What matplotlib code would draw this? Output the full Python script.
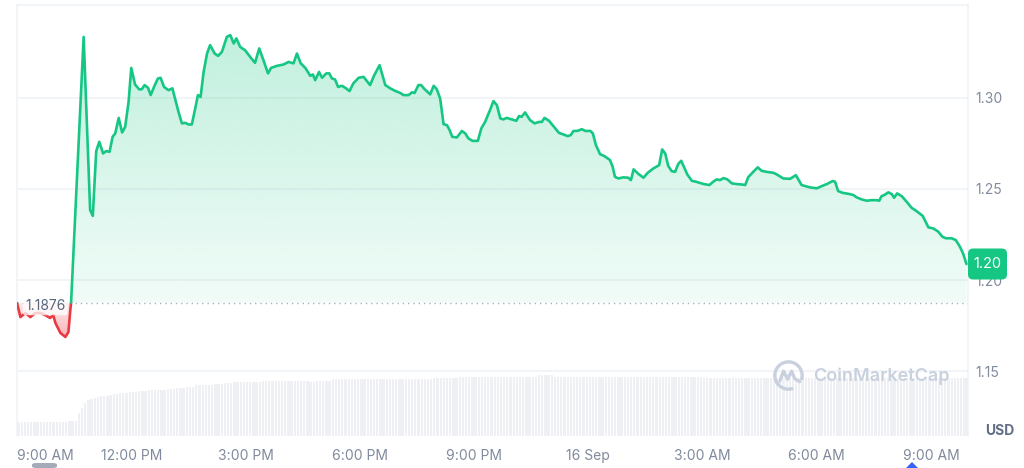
import numpy as np
import matplotlib
matplotlib.use("Agg")
import matplotlib.pyplot as plt
from matplotlib.patches import Polygon, Arc, FancyBboxPatch
from matplotlib.colors import to_rgb

plt.rcParams['font.family'] = ['Inter', 'DejaVu Sans']

# ---------------- data ----------------
# (hours since 9:00 AM 15 Sep, price in USD)
price_series = [
    (0.00, 1.1874), (0.09, 1.1797), (0.22, 1.1819), (0.35, 1.1797), (0.48, 1.1819),
    (0.61, 1.1819), (0.74, 1.1808), (0.87, 1.1792), (0.95, 1.1808), (1.01, 1.1764),
    (1.14, 1.1710), (1.27, 1.1688), (1.35, 1.1715), (1.40, 1.1836), (1.42, 1.1876),
    (1.75, 1.3333), (1.92, 1.2384), (1.99, 1.2352), (2.08, 1.2707), (2.16, 1.2758),
    (2.26, 1.2694), (2.34, 1.2707), (2.43, 1.2703), (2.51, 1.2785), (2.58, 1.2804),
    (2.67, 1.2889), (2.76, 1.2809), (2.84, 1.2840), (2.93, 1.2977), (3.00, 1.3163),
    (3.10, 1.3072), (3.21, 1.3045), (3.28, 1.3047), (3.35, 1.3069), (3.44, 1.3054),
    (3.51, 1.3014), (3.61, 1.3065), (3.70, 1.3105), (3.77, 1.3109), (3.86, 1.3059),
    (3.98, 1.3041), (4.08, 1.3051), (4.24, 1.2922), (4.33, 1.2859), (4.42, 1.2862),
    (4.50, 1.2853), (4.59, 1.2853), (4.68, 1.2941), (4.75, 1.3014), (4.82, 1.3004),
    (4.90, 1.3141), (4.99, 1.3242), (5.07, 1.3288), (5.19, 1.3242), (5.28, 1.3229),
    (5.38, 1.3251), (5.51, 1.3333), (5.60, 1.3343), (5.69, 1.3297), (5.76, 1.3325),
    (5.86, 1.3278), (5.99, 1.3260), (6.12, 1.3224), (6.25, 1.3191), (6.36, 1.3270),
    (6.47, 1.3206), (6.59, 1.3133), (6.67, 1.3163), (6.82, 1.3174), (7.00, 1.3182),
    (7.13, 1.3196), (7.26, 1.3188), (7.35, 1.3242), (7.45, 1.3188), (7.57, 1.3163),
    (7.70, 1.3120), (7.77, 1.3127), (7.83, 1.3096), (7.93, 1.3141), (8.01, 1.3109),
    (8.12, 1.3133), (8.20, 1.3133), (8.27, 1.3105), (8.35, 1.3100), (8.43, 1.3059),
    (8.53, 1.3065), (8.62, 1.3054), (8.73, 1.3036), (8.83, 1.3078), (8.97, 1.3109),
    (9.10, 1.3114), (9.27, 1.3069), (9.38, 1.3123), (9.52, 1.3178), (9.67, 1.3069),
    (9.80, 1.3051), (9.93, 1.3037), (10.06, 1.3026), (10.15, 1.3014), (10.28, 1.3014),
    (10.37, 1.3029), (10.44, 1.3026), (10.54, 1.3069), (10.61, 1.3069), (10.70, 1.3047),
    (10.85, 1.3018), (10.94, 1.3065), (11.02, 1.3047), (11.11, 1.2996), (11.20, 1.2855),
    (11.29, 1.2849), (11.35, 1.2826), (11.43, 1.2785), (11.55, 1.2782), (11.68, 1.2817),
    (11.77, 1.2804), (11.85, 1.2777), (11.96, 1.2763), (12.10, 1.2763), (12.19, 1.2831),
    (12.29, 1.2867), (12.42, 1.2932), (12.51, 1.2981), (12.60, 1.2959), (12.69, 1.2886),
    (12.77, 1.2881), (12.86, 1.2889), (12.99, 1.2881), (13.11, 1.2873), (13.18, 1.2899),
    (13.25, 1.2895), (13.34, 1.2919), (13.47, 1.2877), (13.59, 1.2859), (13.71, 1.2867),
    (13.78, 1.2867), (13.85, 1.2889), (13.97, 1.2873), (14.11, 1.2837), (14.23, 1.2807),
    (14.35, 1.2798), (14.46, 1.2789), (14.54, 1.2795), (14.61, 1.2817), (14.72, 1.2818),
    (14.83, 1.2827), (14.93, 1.2817), (15.05, 1.2818), (15.12, 1.2804), (15.20, 1.2740),
    (15.31, 1.2690), (15.42, 1.2680), (15.57, 1.2658), (15.64, 1.2621), (15.70, 1.2566),
    (15.79, 1.2557), (15.92, 1.2563), (16.05, 1.2561), (16.12, 1.2548), (16.19, 1.2607),
    (16.32, 1.2581), (16.45, 1.2561), (16.56, 1.2588), (16.71, 1.2612), (16.86, 1.2630),
    (16.94, 1.2716), (17.02, 1.2694), (17.10, 1.2625), (17.19, 1.2597), (17.28, 1.2593),
    (17.36, 1.2636), (17.44, 1.2654), (17.51, 1.2621), (17.60, 1.2579), (17.72, 1.2544),
    (17.83, 1.2539), (17.92, 1.2533), (18.04, 1.2526), (18.18, 1.2521), (18.28, 1.2539),
    (18.37, 1.2552), (18.46, 1.2548), (18.55, 1.2559), (18.65, 1.2552), (18.77, 1.2530),
    (18.90, 1.2526), (19.03, 1.2524), (19.12, 1.2521), (19.20, 1.2564), (19.33, 1.2593),
    (19.45, 1.2618), (19.55, 1.2599), (19.69, 1.2593), (19.86, 1.2588), (19.95, 1.2579),
    (20.12, 1.2557), (20.30, 1.2555), (20.45, 1.2575), (20.60, 1.2521), (20.82, 1.2508),
    (21.00, 1.2503), (21.13, 1.2515), (21.26, 1.2526), (21.42, 1.2543), (21.48, 1.2539),
    (21.56, 1.2488), (21.68, 1.2478), (21.77, 1.2475), (21.87, 1.2471), (21.96, 1.2466),
    (22.05, 1.2453), (22.18, 1.2442), (22.31, 1.2435), (22.44, 1.2438), (22.57, 1.2438),
    (22.64, 1.2435), (22.70, 1.2460), (22.77, 1.2466), (22.88, 1.2481), (22.97, 1.2471),
    (23.03, 1.2451), (23.11, 1.2475), (23.23, 1.2460), (23.36, 1.2429), (23.49, 1.2396),
    (23.62, 1.2378), (23.78, 1.2352), (23.93, 1.2289), (24.06, 1.2283), (24.19, 1.2265),
    (24.30, 1.2237), (24.39, 1.2229), (24.54, 1.2229), (24.65, 1.2219), (24.76, 1.2182),
    (24.84, 1.2146), (24.93, 1.2088),
]
open_price = 1.1876
open_label = "1.1876"
last_label = "1.20"

# volume per 5-minute bar (millions, relative)
volume_5min = [
    7.2, 7.2, 7.2, 7.2, 7.2, 7.2, 7.2, 7.2, 7.2, 7.2, 7.2, 7.2,
    7.2, 7.2, 7.2, 7.2, 7.6, 7.6, 7.6, 11.3, 13.8, 16.3, 18.0, 18.5,
    18.8, 19.5, 19.8, 20.0, 20.2, 20.5, 21.0, 21.1, 21.3, 21.5, 21.7, 21.8,
    22.0, 22.2, 22.4, 22.4, 22.4, 22.8, 22.8, 22.8, 23.2, 23.2, 23.2, 23.7,
    23.7, 23.7, 24.2, 24.2, 24.2, 24.7, 24.7, 24.7, 25.3, 25.3, 25.3, 25.7,
    25.7, 25.7, 26.0, 26.0, 26.0, 26.4, 26.4, 26.4, 26.8, 26.8, 26.8, 27.2,
    27.2, 27.2, 27.2, 27.2, 27.2, 27.7, 27.7, 27.7, 27.7, 27.7, 27.7, 27.7,
    27.7, 27.7, 27.7, 27.7, 27.7, 27.7, 27.7, 27.7, 27.2, 27.2, 27.7, 27.7,
    27.7, 27.7, 27.7, 28.4, 28.4, 28.4, 28.4, 28.4, 28.4, 28.4, 28.4, 28.4,
    28.4, 28.4, 28.4, 28.4, 28.4, 28.4, 28.4, 28.4, 28.4, 28.4, 28.4, 28.4,
    28.4, 28.4, 28.4, 28.4, 28.4, 28.4, 28.4, 28.4, 28.4, 28.4, 28.4, 28.9,
    28.9, 28.9, 28.9, 28.9, 28.9, 28.9, 28.9, 29.7, 29.7, 29.7, 29.7, 29.7,
    29.7, 29.7, 29.7, 29.7, 29.7, 29.7, 29.7, 29.7, 29.7, 29.7, 29.7, 29.7,
    29.7, 29.7, 29.7, 29.7, 29.7, 29.7, 29.7, 29.7, 30.4, 30.4, 30.4, 30.4,
    30.4, 29.7, 29.7, 29.7, 29.7, 29.7, 29.7, 29.7, 29.7, 29.7, 29.7, 29.7,
    29.7, 29.7, 29.7, 29.7, 29.7, 29.7, 29.7, 29.7, 29.7, 29.7, 29.7, 29.7,
    29.7, 29.7, 29.7, 29.7, 29.7, 29.7, 29.7, 29.7, 29.7, 29.7, 29.7, 29.7,
    29.7, 29.7, 29.7, 29.7, 29.7, 29.7, 29.7, 29.7, 29.7, 29.7, 29.7, 29.7,
    29.2, 29.2, 29.2, 29.2, 29.2, 29.2, 28.9, 28.9, 28.9, 28.9, 28.9, 28.9,
    28.9, 28.9, 28.9, 28.9, 28.9, 28.9, 28.9, 28.9, 28.9, 28.9, 28.9, 28.9,
    28.9, 28.9, 28.9, 28.9, 28.9, 28.9, 28.9, 28.9, 28.9, 28.9, 28.9, 28.9,
    28.9, 28.9, 28.9, 28.9, 28.9, 28.9, 28.9, 28.9, 28.9, 28.9, 28.9, 28.9,
    28.9, 28.9, 28.9, 28.9, 28.9, 28.9, 28.9, 28.9, 28.9, 28.9, 28.9, 28.9,
    28.9, 28.9, 28.9, 28.9, 28.9, 28.9, 28.9, 28.9, 28.9, 28.9, 28.9, 28.9,
    28.9, 28.9, 28.9, 28.9, 28.9, 28.9, 28.9, 28.9, 28.9, 28.9, 28.9, 28.9,
]
bar_minutes = 5

tick_hours = [0, 3, 6, 9, 12, 15, 18, 21, 24]
tick_labels = ["9:00 AM", "12:00 PM", "3:00 PM", "6:00 PM", "9:00 PM",
               "16 Sep", "3:00 AM", "6:00 AM", "9:00 AM"]
price_ticks = [1.15, 1.20, 1.25, 1.30]
price_tick_labels = ["1.15", "1.20", "1.25", "1.30"]

# ---------------- style ----------------
GREEN = "#16c784"
RED = "#ea3943"
GRID = "#eff2f5"
LABEL = "#808a9d"
W, H = 1024, 468
XMIN, XMAX = 0.0, 24.97
YMIN, YMAX = 1.1145, 1.3508

hours = np.array([p[0] for p in price_series])
prices = np.array([p[1] for p in price_series])

fig = plt.figure(figsize=(W / 100, H / 100), dpi=100)
rect = [17 / W, (H - 436) / H, (968 - 17) / W, (436 - 5) / H]
axv = fig.add_axes(rect, zorder=0)
ax = fig.add_axes(rect, zorder=1)
ax.patch.set_alpha(0)

# volume bars
vol = np.array(volume_5min)
step = bar_minutes / 60.0
centers = np.arange(len(vol)) * step + step / 2
axv.bar(centers, vol, width=step * 0.72, color="#eef0f4", linewidth=0)
axv.set_xlim(XMIN, XMAX)
axv.set_ylim(0, 215.5)
axv.axis("off")

# grid
for y in price_ticks:
    ax.axhline(y, color=GRID, lw=1.1, zorder=0.5)

# gradient fills
def gradient_fill(color, y0, y1, a0, a1, upper, lower):
    n = 256
    img = np.zeros((n, 1, 4))
    img[..., :3] = to_rgb(color)
    img[:, 0, 3] = np.linspace(a0, a1, n)
    im = ax.imshow(img, extent=[XMIN, XMAX, y0, y1], origin="lower",
                   aspect="auto", zorder=1, interpolation="bilinear")
    verts = np.column_stack([np.r_[hours, hours[::-1]],
                             np.r_[upper, lower[::-1]]])
    clip = Polygon(verts, closed=True, transform=ax.transData,
                   facecolor="none", edgecolor="none")
    ax.add_patch(clip)
    im.set_clip_path(clip)

base = np.full_like(prices, open_price)
gradient_fill(GREEN, open_price, YMAX, 0.06, 0.29, np.maximum(prices, open_price), base)
gradient_fill(RED, prices.min(), open_price, 0.38, 0.10, base, np.minimum(prices, open_price))

# price line split at the open price
cross = int(np.argmax((prices >= open_price) & (np.arange(len(prices)) > 0)))
ax.plot(hours[:cross + 1], prices[:cross + 1], color=RED, lw=1.9,
        solid_joinstyle="round", solid_capstyle="round", zorder=3)
ax.plot(hours[cross:], prices[cross:], color=GREEN, lw=1.9,
        solid_joinstyle="round", solid_capstyle="round", zorder=3)

# open-price dotted line and label
ax.axhline(open_price, color="#a6b0c3", lw=1.0, linestyle=(0, (1, 2.8)), zorder=2)
ax.annotate(open_label, xy=(0.0085, open_price), xycoords=ax.get_yaxis_transform(),
            xytext=(0, -2.5), textcoords="offset points", ha="left", va="center",
            fontsize=10, color="#58667e", zorder=4,
            bbox=dict(boxstyle="round,pad=0.15", fc="white", ec="none", alpha=0.75))

ax.set_xlim(XMIN, XMAX)
ax.set_ylim(YMIN, YMAX)

# axes frame
for s in ["top", "left", "right"]:
    ax.spines[s].set_color(GRID)
    ax.spines[s].set_linewidth(1.1)
ax.spines["bottom"].set_visible(False)

ax.set_xticks(tick_hours, tick_labels)
ax.tick_params(axis="x", length=0, pad=9.5, labelsize=10, labelcolor=LABEL)
ax.get_xticklabels()[0].set_ha("left")
ax.yaxis.tick_right()
ax.set_yticks(price_ticks, price_tick_labels)
ax.tick_params(axis="y", length=0, pad=5.5, labelsize=10, labelcolor=LABEL)

# current price tag (box anchored at the last price, at the right edge of the plot)
y_tag = ax.transData.transform((XMAX, prices[-1]))[1] / H
tag_w, tag_h = 39 / W, 31 / H
x_tag = rect[0] + rect[2]
fig.patches.append(FancyBboxPatch((x_tag, y_tag - tag_h / 2), tag_w, tag_h,
                                  boxstyle="round,pad=0,rounding_size=0.005",
                                  mutation_aspect=W / H,
                                  transform=fig.transFigure, fc=GREEN, ec="none", zorder=10))
fig.text(x_tag + tag_w / 2, y_tag, last_label, fontsize=10.5, color="white",
         ha="center", va="center", zorder=11)

fig.text(985 / W, 1 - 431 / H, "USD", fontsize=10, fontweight="bold",
         color="#616e85", ha="left", va="center")

# watermark
WM = "#c9d1de"
fig.text(813 / W, 1 - 376 / H, "CoinMarketCap", fontsize=13, fontweight="semibold",
         color=WM, ha="left", va="center", zorder=5)
lax = fig.add_axes([773 / W, 1 - 391 / H, 31 / W, 31 / H], zorder=5)
lax.set_xlim(0, 1)
lax.set_ylim(0, 1)
lax.axis("off")
lax.add_patch(Arc((0.5, 0.5), 0.88, 0.88, theta1=-20, theta2=290, color=WM, lw=2.4))
lax.plot([0.22, 0.34, 0.47, 0.60, 0.70, 0.86], [0.32, 0.64, 0.38, 0.64, 0.40, 0.30],
         color=WM, lw=2.4, solid_joinstyle="round", solid_capstyle="round")

# small bottom decorations
fig.patches.append(FancyBboxPatch((32 / W, 0.0), 25 / W, 5 / H,
                                  boxstyle="round,pad=0,rounding_size=0.004",
                                  transform=fig.transFigure, fc="#a3abb9", ec="none"))
fig.patches.append(Polygon([[906 / W, 0.0], [918 / W, 0.0], [912 / W, 6 / H]],
                           closed=True, transform=fig.transFigure, fc="#3861fb", ec="none"))

fig.savefig("out.png", dpi=100)
